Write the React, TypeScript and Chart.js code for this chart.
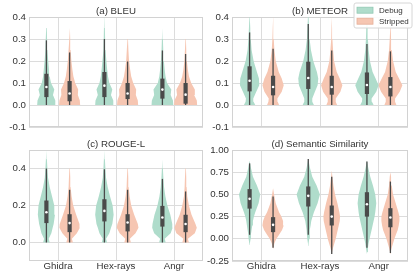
import React, { useEffect, useRef } from 'react';
import { Chart, registerables } from 'chart.js';

Chart.register(...registerables);

const CATEGORIES = ['Ghidra', 'Hex-rays', 'Angr'];
const SERIES = ['Debug', 'Stripped'];

// ---------- (a) BLEU ----------
const BLEU_LEVELS = [0, 0.02, 0.045, 0.07, 0.1, 0.13, 0.16, 0.2, 0.25, 0.3, 0.35];
const BLEU_DEBUG_DENSITY = [
  [28, 27, 20, 24, 14, 10, 8, 5.5, 3.2, 2, 1.2],
  [28, 27, 20, 24, 15, 11, 8.5, 6, 3.5, 2.2, 1.4],
  [33, 32, 25, 27, 14, 9.5, 7, 4.5, 2.6, 1.5, 0.7],
];
const BLEU_STRIPPED_DENSITY = [
  [32, 31, 25, 26, 17, 11.5, 8.5, 5.4, 3.1, 1.8, 1],
  [32, 31, 25, 26, 17, 11, 7.8, 4.3, 2.4, 1.2, 0.5],
  [35, 34, 26, 28, 17, 10.3, 6.8, 3.8, 2, 0.9, 0],
];
const BLEU_DEBUG_EXTENT = [[0, 0.42], [0, 0.42], [0, 0.37]];
const BLEU_STRIPPED_EXTENT = [[0, 0.41], [0, 0.385], [0, 0.31]];
// [low whisker, q1, median, q3, high whisker]
const BLEU_DEBUG_BOX = [
  [0, 0.036, 0.082, 0.142, 0.294],
  [0, 0.036, 0.088, 0.15, 0.3],
  [0, 0.029, 0.07, 0.12, 0.248],
];
const BLEU_STRIPPED_BOX = [
  [0, 0.017, 0.052, 0.109, 0.239],
  [0, 0.027, 0.052, 0.1, 0.198],
  [0, 0.006, 0.047, 0.1, 0.232],
];
const BLEU_TICKS = [-0.1, 0, 0.1, 0.2, 0.3, 0.4];

// ---------- (b) METEOR ----------
const METEOR_LEVELS = [0, 0.015, 0.03, 0.06, 0.09, 0.12, 0.15, 0.2, 0.25, 0.3, 0.35];
const METEOR_DEBUG_DENSITY = [
  [17, 12, 11, 20, 29, 28, 22, 12, 6, 3.5, 2],
  [17, 12, 12, 20, 28, 30, 26, 15, 8, 4, 2.5],
  [20, 15, 14, 28, 35, 26, 17, 9, 5, 3, 2],
];
const METEOR_STRIPPED_DENSITY = [
  [18, 14, 13, 26, 32, 26, 17, 8, 4, 2, 1],
  [16, 12, 12, 26, 32, 24, 15, 7, 4, 2, 1],
  [18, 14, 14, 28, 36, 26, 16, 8, 4, 2, 1],
];
const METEOR_DEBUG_EXTENT = [[0, 0.42], [0, 0.43], [0, 0.42]];
const METEOR_STRIPPED_EXTENT = [[0, 0.41], [0, 0.4], [0, 0.39]];
const METEOR_DEBUG_BOX = [
  [0, 0.062, 0.11, 0.176, 0.33],
  [0, 0.073, 0.123, 0.197, 0.368],
  [0, 0.05, 0.091, 0.148, 0.277],
];
const METEOR_STRIPPED_BOX = [
  [0, 0.044, 0.082, 0.133, 0.256],
  [0, 0.047, 0.082, 0.133, 0.248],
  [0, 0.039, 0.082, 0.127, 0.244],
];
const METEOR_TICKS = [-0.1, 0, 0.1, 0.2, 0.3, 0.4];

// ---------- (c) ROUGE-L ----------
const ROUGE_LEVELS = [0, 0.02, 0.05, 0.08, 0.1, 0.15, 0.2, 0.25, 0.3, 0.35, 0.4, 0.45];
const ROUGE_DEBUG_DENSITY = [
  [10, 7, 15, 19, 22, 26, 24, 17, 10, 5, 3, 1.5],
  [8, 5, 15, 20, 24, 28, 25, 17, 10, 5, 3, 1.5],
  [10, 7, 25, 31, 30, 24, 15, 9, 5, 3, 1.5, 0.8],
];
const ROUGE_STRIPPED_DENSITY = [
  [10, 7, 22, 31, 30, 20, 11, 6, 3, 2, 1, 0],
  [10, 7, 24, 33, 31, 20, 11, 6, 3, 2, 1, 0],
  [10, 7, 28, 34, 30, 18, 10, 5, 3, 2, 1, 0],
];
const ROUGE_DEBUG_EXTENT = [[0, 0.5], [0, 0.5], [0, 0.5]];
const ROUGE_STRIPPED_EXTENT = [[0, 0.44], [0, 0.45], [0, 0.44]];
const ROUGE_DEBUG_BOX = [
  [0, 0.105, 0.164, 0.227, 0.4],
  [0, 0.114, 0.171, 0.234, 0.396],
  [0, 0.086, 0.135, 0.198, 0.344],
];
const ROUGE_STRIPPED_BOX = [
  [0, 0.056, 0.105, 0.153, 0.285],
  [0, 0.06, 0.108, 0.153, 0.285],
  [0, 0.056, 0.1, 0.15, 0.276],
];
const ROUGE_TICKS = [0, 0.2, 0.4];

// ---------- (d) Semantic Similarity ----------
const SEM_LEVELS = [-0.15, -0.1, -0.05, 0, 0.05, 0.1, 0.15, 0.2, 0.25, 0.3, 0.4, 0.5, 0.6, 0.7, 0.8];
const SEM_DEBUG_DENSITY = [
  [0, 0, 1, 3, 4, 6, 8, 10, 13, 17, 27, 32, 22, 10, 4],
  [0, 0, 1, 3, 4, 5, 7, 9, 13, 17, 28, 35, 25, 12, 5],
  [1, 3, 5, 8, 11, 14, 17, 20, 23, 25, 28, 25, 18, 10, 4],
];
const SEM_STRIPPED_DENSITY = [
  [0, 1, 4, 10, 19, 27, 32, 30, 25, 18, 8, 3, 0.5, 0, 0],
  [1, 4, 8, 12, 15, 18, 21, 24, 25, 23, 17, 10, 5, 2, 0],
  [1, 4, 8, 12, 17, 22, 25, 27, 27, 24, 16, 8, 4, 2, 0],
];
const SEM_DEBUG_EXTENT = [[-0.07, 0.88], [-0.08, 0.9], [-0.17, 0.88]];
const SEM_STRIPPED_EXTENT = [[-0.11, 0.57], [-0.17, 0.77], [-0.17, 0.75]];
const SEM_DEBUG_BOX = [
  [0.045, 0.34, 0.45, 0.56, 0.85],
  [0.045, 0.364, 0.484, 0.59, 0.9],
  [-0.1, 0.25, 0.39, 0.525, 0.87],
];
const SEM_STRIPPED_BOX = [
  [-0.1, 0.075, 0.157, 0.244, 0.476],
  [-0.17, 0.15, 0.25, 0.375, 0.7],
  [-0.16, 0.13, 0.24, 0.345, 0.645],
];
const SEM_TICKS = [-0.25, 0, 0.25, 0.5, 0.75, 1.0];

// ---------- styling ----------
const FILL_COLORS = ['#afdccb', '#f6c6b2'];
const SWATCH_EDGE = ['#92c8b3', '#e6ae98'];
const BOX_COLOR = '#4a4a4a';
const GRID_COLOR = '#dcdcdc';
const FRAME_COLOR = '#d2d2d2';
const TEXT_COLOR = '#333333';
const FONT_FAMILY = "'Liberation Sans', Arial, sans-serif";
const HUE_OFFSET = [-0.2, 0.2];
const DENSITY_SCALE = 1 / 176;

Chart.defaults.font.family = FONT_FAMILY;
Chart.defaults.color = TEXT_COLOR;

type PanelSpec = {
  title: string;
  levels: number[];
  density: number[][][];
  extent: number[][][];
  box: number[][][];
  yMin: number;
  yMax: number;
  yTicks: number[];
  decimals: number;
  showX: boolean;
  legend: boolean;
  yAxisWidth: number;
  xAxisHeight: number;
  padRight: number;
  titleTop: number;
};

function violinPoints(cx: number, levels: number[], dens: number[], ext: number[]) {
  const [bottom, top] = ext;
  const idx = levels
    .map((_, i) => i)
    .filter((i) => levels[i] >= bottom - 1e-9 && levels[i] < top);
  const right: { x: number; y: number }[] = [];
  if (idx.length === 0 || levels[idx[0]] > bottom + 1e-9) right.push({ x: cx, y: bottom });
  idx.forEach((i) => right.push({ x: cx + dens[i] * DENSITY_SCALE, y: levels[i] }));
  right.push({ x: cx, y: top });
  const left = idx
    .slice()
    .reverse()
    .map((i) => ({ x: cx - dens[i] * DENSITY_SCALE, y: levels[i] }));
  return right.concat(left);
}

const framePlugin = {
  id: 'frame',
  beforeDatasetsDraw(chart: any) {
    const { ctx, chartArea: a } = chart;
    ctx.save();
    ctx.strokeStyle = FRAME_COLOR;
    ctx.lineWidth = 1;
    ctx.strokeRect(Math.round(a.left) + 0.5, Math.round(a.top) + 0.5, Math.round(a.right - a.left) - 1, Math.round(a.bottom - a.top) - 1);
    ctx.restore();
  },
};

const legendPlugin = {
  id: 'boxLegend',
  afterDraw(chart: any) {
    const opts = chart.options.plugins.boxLegend;
    if (!opts || !opts.show) return;
    const { ctx, chartArea: a } = chart;
    const x = a.right - 54;
    const y = 3;
    const w = 58;
    const h = 25;
    const r = 2;
    ctx.save();
    ctx.beginPath();
    ctx.moveTo(x + r, y);
    ctx.lineTo(x + w - r, y);
    ctx.arcTo(x + w, y, x + w, y + r, r);
    ctx.lineTo(x + w, y + h - r);
    ctx.arcTo(x + w, y + h, x + w - r, y + h, r);
    ctx.lineTo(x + r, y + h);
    ctx.arcTo(x, y + h, x, y + h - r, r);
    ctx.lineTo(x, y + r);
    ctx.arcTo(x, y, x + r, y, r);
    ctx.closePath();
    ctx.fillStyle = 'rgba(255,255,255,0.9)';
    ctx.fill();
    ctx.strokeStyle = '#d6d6d6';
    ctx.lineWidth = 1;
    ctx.stroke();
    ctx.font = `8px ${FONT_FAMILY}`;
    ctx.textBaseline = 'middle';
    ctx.textAlign = 'left';
    SERIES.forEach((name, s) => {
      const cy = y + 7.2 + s * 11;
      ctx.fillStyle = FILL_COLORS[s];
      ctx.fillRect(x + 3, cy - 3, 16, 6);
      ctx.strokeStyle = SWATCH_EDGE[s];
      ctx.lineWidth = 0.8;
      ctx.strokeRect(x + 3, cy - 3, 16, 6);
      ctx.fillStyle = TEXT_COLOR;
      ctx.fillText(name, x + 25, cy + 0.5);
    });
    ctx.restore();
  },
};

function buildConfig(p: PanelSpec): any {
  const datasets: any[] = [];
  SERIES.forEach((name, s) => {
    CATEGORIES.forEach((_, c) => {
      const cx = c + HUE_OFFSET[s];
      const b = p.box[s][c];
      datasets.push({
        label: name,
        data: violinPoints(cx, p.levels, p.density[s][c], p.extent[s][c]),
        fill: 'shape',
        backgroundColor: FILL_COLORS[s],
        borderColor: 'rgba(0,0,0,0)',
        borderWidth: 0,
        pointRadius: 0,
        tension: 0,
        order: 3,
      });
      datasets.push({
        label: name + ' whisker',
        data: [{ x: cx, y: b[0] }, { x: cx, y: b[4] }],
        borderColor: BOX_COLOR,
        borderWidth: 1.3,
        pointRadius: 0,
        fill: false,
        order: 2,
      });
      datasets.push({
        label: name + ' box',
        data: [{ x: cx, y: b[1] }, { x: cx, y: b[3] }],
        borderColor: BOX_COLOR,
        borderWidth: 4.2,
        borderCapStyle: 'butt',
        pointRadius: 0,
        fill: false,
        order: 1,
      });
      datasets.push({
        label: name + ' median',
        data: [{ x: cx, y: b[2] }],
        showLine: false,
        pointRadius: 1.3,
        pointBackgroundColor: '#ffffff',
        pointBorderWidth: 0,
        order: 0,
      });
    });
  });

  return {
    type: 'line',
    data: { datasets },
    options: {
      responsive: false,
      animation: false,
      devicePixelRatio: 1,
      events: [],
      layout: { padding: { left: 0, right: p.padRight, top: 0, bottom: 0 } },
      plugins: {
        legend: { display: false },
        tooltip: { enabled: false },
        title: {
          display: true,
          text: p.title,
          fullSize: false,
          color: TEXT_COLOR,
          font: { size: 9.7, weight: 'normal', family: FONT_FAMILY, lineHeight: 1.2 },
          padding: { top: p.titleTop, bottom: 0 },
        },
        boxLegend: { show: p.legend },
      },
      scales: {
        x: {
          type: 'linear',
          min: -0.5,
          max: 2.5,
          afterBuildTicks: (scale: any) => {
            scale.ticks = CATEGORIES.map((_, i) => ({ value: i }));
          },
          afterFit: (scale: any) => {
            scale.height = p.xAxisHeight;
          },
          ticks: {
            display: p.showX,
            autoSkip: false,
            maxRotation: 0,
            padding: 0,
            color: TEXT_COLOR,
            font: { size: 9.7, family: FONT_FAMILY },
            callback: (v: any) => CATEGORIES[Math.round(Number(v))] ?? '',
          },
          grid: { color: GRID_COLOR, lineWidth: 1, drawTicks: false },
          border: { display: false },
        },
        y: {
          type: 'linear',
          min: p.yMin,
          max: p.yMax,
          afterBuildTicks: (scale: any) => {
            scale.ticks = p.yTicks.map((v) => ({ value: v }));
          },
          afterFit: (scale: any) => {
            scale.width = p.yAxisWidth;
          },
          ticks: {
            padding: 3,
            color: TEXT_COLOR,
            font: { size: 9.7, family: FONT_FAMILY },
            callback: (v: any) => Number(v).toFixed(p.decimals),
          },
          grid: { color: GRID_COLOR, lineWidth: 1, drawTicks: false },
          border: { display: false },
        },
      },
    },
    plugins: [framePlugin, legendPlugin],
  };
}

const PANELS: { spec: PanelSpec; left: number; top: number; width: number; height: number }[] = [
  {
    left: 0, top: 0, width: 207, height: 136,
    spec: {
      title: '(a) BLEU', levels: BLEU_LEVELS,
      density: [BLEU_DEBUG_DENSITY, BLEU_STRIPPED_DENSITY],
      extent: [BLEU_DEBUG_EXTENT, BLEU_STRIPPED_EXTENT],
      box: [BLEU_DEBUG_BOX, BLEU_STRIPPED_BOX],
      yMin: -0.1, yMax: 0.4, yTicks: BLEU_TICKS, decimals: 1,
      showX: false, legend: false, yAxisWidth: 29, xAxisHeight: 9, padRight: 2, titleTop: 5.4,
    },
  },
  {
    left: 204, top: 0, width: 211, height: 136,
    spec: {
      title: '(b) METEOR', levels: METEOR_LEVELS,
      density: [METEOR_DEBUG_DENSITY, METEOR_STRIPPED_DENSITY],
      extent: [METEOR_DEBUG_EXTENT, METEOR_STRIPPED_EXTENT],
      box: [METEOR_DEBUG_BOX, METEOR_STRIPPED_BOX],
      yMin: -0.1, yMax: 0.4, yTicks: METEOR_TICKS, decimals: 1,
      showX: false, legend: true, yAxisWidth: 28, xAxisHeight: 9, padRight: 7, titleTop: 5.4,
    },
  },
  {
    left: 0, top: 136, width: 207, height: 141,
    spec: {
      title: '(c) ROUGE-L', levels: ROUGE_LEVELS,
      density: [ROUGE_DEBUG_DENSITY, ROUGE_STRIPPED_DENSITY],
      extent: [ROUGE_DEBUG_EXTENT, ROUGE_STRIPPED_EXTENT],
      box: [ROUGE_DEBUG_BOX, ROUGE_STRIPPED_BOX],
      yMin: -0.1, yMax: 0.5, yTicks: ROUGE_TICKS, decimals: 1,
      showX: true, legend: false, yAxisWidth: 29, xAxisHeight: 16, padRight: 2, titleTop: 2.4,
    },
  },
  {
    left: 204, top: 136, width: 211, height: 141,
    spec: {
      title: '(d) Semantic Similarity', levels: SEM_LEVELS,
      density: [SEM_DEBUG_DENSITY, SEM_STRIPPED_DENSITY],
      extent: [SEM_DEBUG_EXTENT, SEM_STRIPPED_EXTENT],
      box: [SEM_DEBUG_BOX, SEM_STRIPPED_BOX],
      yMin: -0.25, yMax: 1.0, yTicks: SEM_TICKS, decimals: 2,
      showX: true, legend: false, yAxisWidth: 28, xAxisHeight: 16, padRight: 7, titleTop: 2.4,
    },
  },
];

export default function App() {
  const refs = useRef<(HTMLCanvasElement | null)[]>([]);

  useEffect(() => {
    const charts = PANELS.map((panel, i) => {
      const canvas = refs.current[i]!;
      return new Chart(canvas, buildConfig(panel.spec));
    });
    return () => charts.forEach((c) => c.destroy());
  }, []);

  return (
    <div style={{ position: 'fixed', left: 0, top: 0, width: 415, height: 277, background: '#ffffff', overflow: 'hidden' }}>
      {PANELS.map((panel, i) => (
        <canvas
          key={i}
          ref={(el) => {
            refs.current[i] = el;
          }}
          width={panel.width}
          height={panel.height}
          style={{ position: 'absolute', left: panel.left, top: panel.top, width: panel.width, height: panel.height }}
        />
      ))}
    </div>
  );
}
